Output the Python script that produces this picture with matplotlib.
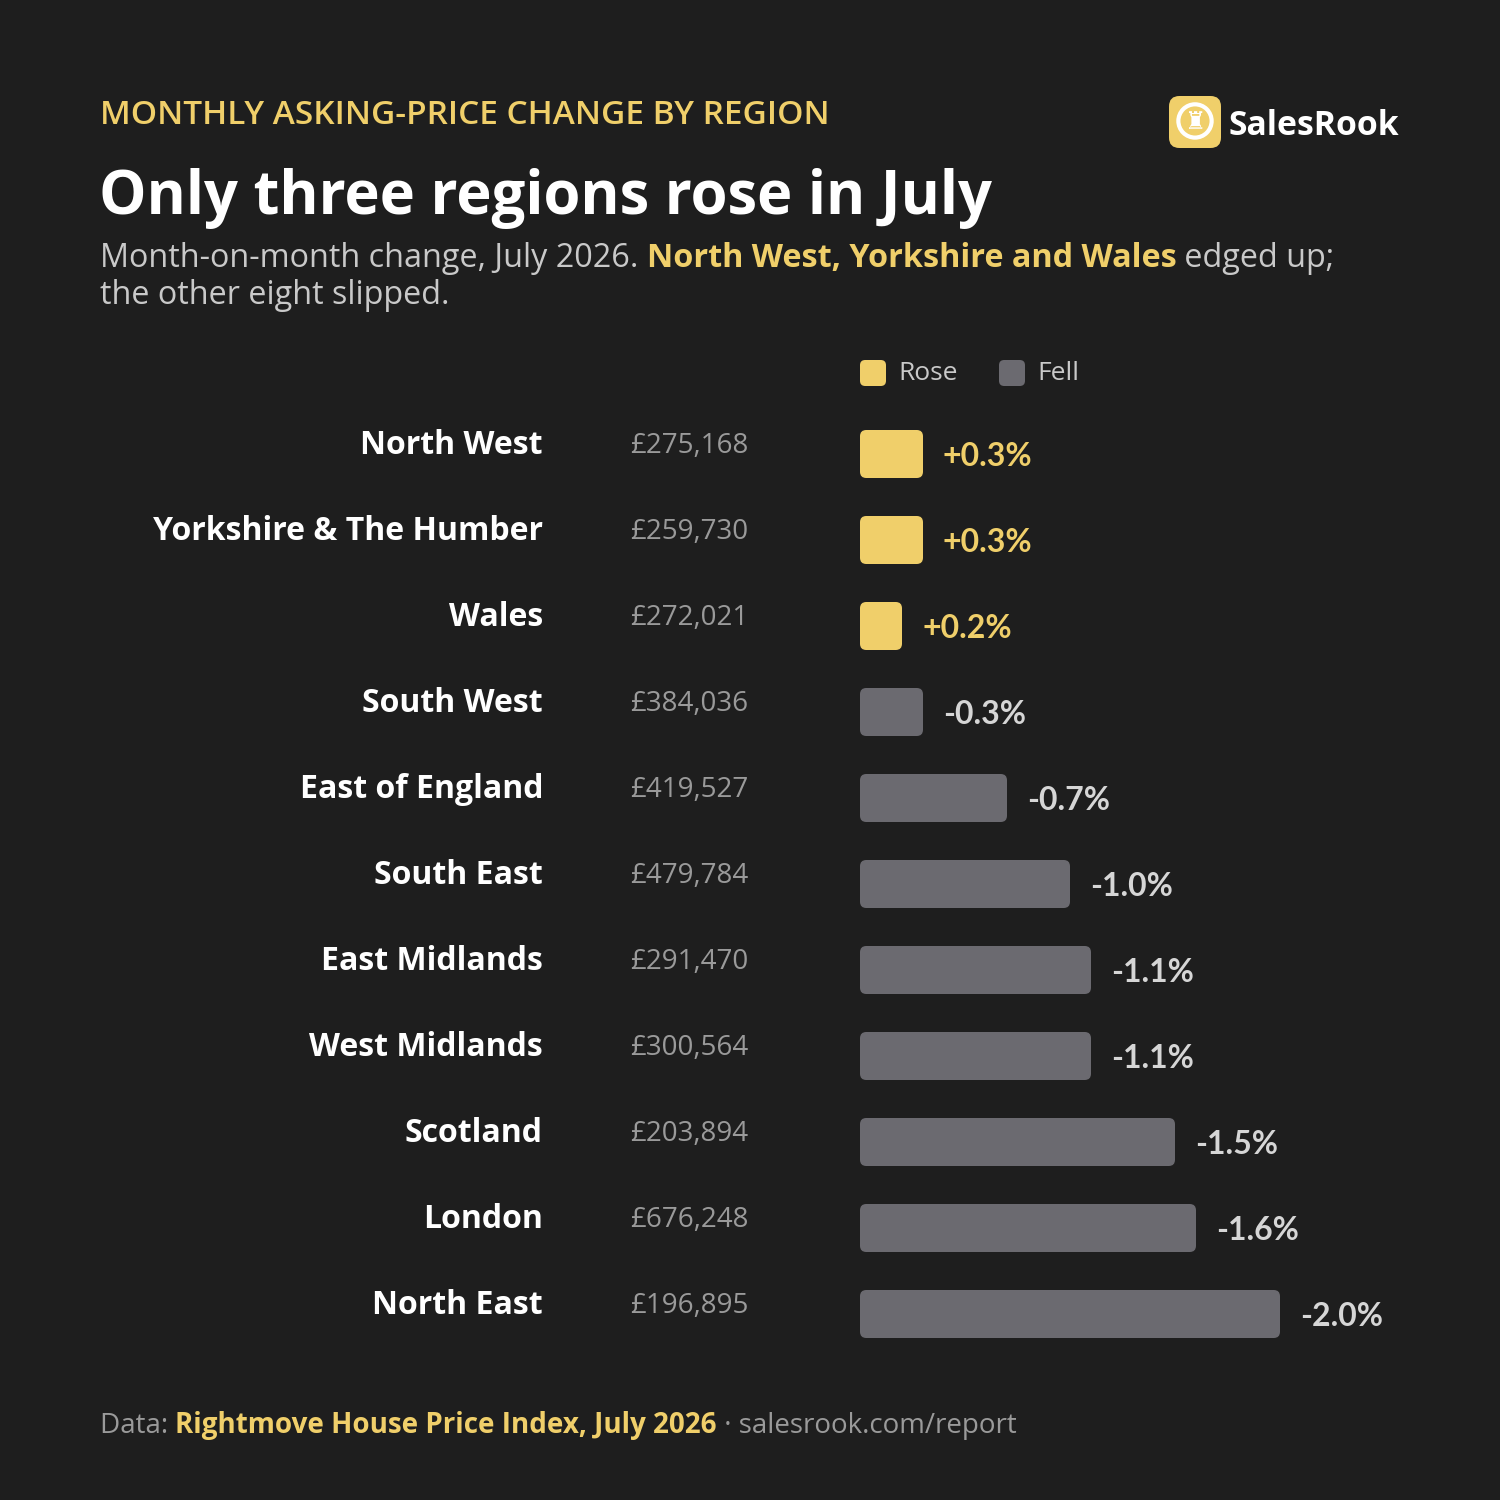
import matplotlib
matplotlib.use("Agg")
import matplotlib.pyplot as plt
from matplotlib.patches import FancyBboxPatch, Circle
from matplotlib.transforms import blended_transform_factory

regions = ["North West", "Yorkshire & The Humber", "Wales", "South West",
           "East of England", "South East", "East Midlands", "West Midlands",
           "Scotland", "London", "North East"]
prices = ["£275,168", "£259,730", "£272,021", "£384,036", "£419,527",
          "£479,784", "£291,470", "£300,564", "£203,894", "£676,248", "£196,895"]
changes = [0.3, 0.3, 0.2, -0.3, -0.7, -1.0, -1.1, -1.1, -1.5, -1.6, -2.0]

BG = "#1e1e1e"
YELLOW = "#f0cf6a"
GREY_BAR = "#6b6a70"
WHITE = "#ffffff"
LIGHT = "#c9c9c9"
MUTED = "#9a9a9a"

W = H = 1500
fig = plt.figure(figsize=(15, 15), dpi=100, facecolor=BG)


def px(x, y):
    return x / W, 1 - y / H


def runs(x, y, parts, size, family="Open Sans"):
    # draw a line made of several text pieces with different styles
    r = fig.canvas.get_renderer()
    for s, color, weight in parts:
        t = fig.text(*px(x, y), s, color=color, fontsize=size, fontweight=weight,
                     family=family, va="baseline", ha="left")
        bb = t.get_window_extent(renderer=r)
        x += bb.width


# header
fig.text(*px(100, 124), "MONTHLY ASKING-PRICE CHANGE BY REGION", color=YELLOW,
         fontsize=24, fontweight="semibold", family="Open Sans", va="baseline")
fig.text(*px(99, 214), "Only three regions rose in July", color=WHITE,
         fontsize=43, fontweight="bold", family="Open Sans", va="baseline")
runs(100, 267, [("Month-on-month change, July 2026. ", LIGHT, "normal"),
                ("North West, Yorkshire and Wales", YELLOW, "bold"),
                (" edged up;", LIGHT, "normal")], 23.3)
runs(100, 304, [("the other eight slipped.", LIGHT, "normal")], 23.3)

# logo
logo = fig.add_axes([1169 / W, 1 - 148 / H, 52 / W, 52 / H])
logo.set_xlim(0, 1)
logo.set_ylim(0, 1)
logo.axis("off")
logo.add_patch(FancyBboxPatch((0, 0), 1, 1, boxstyle="round,pad=0,rounding_size=0.2",
                              fc=YELLOW, ec="none"))
logo.add_patch(Circle((0.5, 0.52), 0.32, fc="none", ec=WHITE, lw=3))
logo.text(0.5, 0.5, "\u265c", color=WHITE, fontsize=17, ha="center", va="center",
          family="DejaVu Sans")
fig.text(*px(1228, 135), "SalesRook", color=WHITE, fontsize=24.3, fontweight="bold",
         family="Open Sans", va="baseline")

# bars
ax = fig.add_axes([860 / W, 1 - 1357 / H, 525 / W, 946 / H])
ax.set_facecolor(BG)
ax.set_xlim(0, 2.5)
ax.set_ylim(len(regions) - 0.5, -0.5)
ax.axis("off")

bar_h = 48 / 86
aspect = (1 / 86) / (1 / 210)
label_tf = blended_transform_factory(fig.transFigure, ax.transData)
for i, (name, price, ch) in enumerate(zip(regions, prices, changes)):
    rose = ch > 0
    color = YELLOW if rose else GREY_BAR
    ax.add_patch(FancyBboxPatch((0, i - bar_h / 2), abs(ch), bar_h,
                                boxstyle="round,pad=0,rounding_size=0.03",
                                mutation_aspect=aspect, fc=color, ec="none"))
    ax.text(abs(ch) + 20 / 210, i + 0.03, f"{ch:+.1f}%", color=YELLOW if rose else "#d6d6d6",
            fontsize=23, fontweight="bold", family="Lato", va="center", ha="left")
    ax.text(543 / W, i - 0.1, name, transform=label_tf, color=WHITE, fontsize=23,
            fontweight="bold", family="Open Sans", ha="right", va="center")
    ax.text(630 / W, i - 0.09, price, transform=label_tf, color=MUTED, fontsize=20,
            family="Open Sans", ha="left", va="center")

# legend
for x0, lab, c in [(860, "Rose", YELLOW), (999, "Fell", GREY_BAR)]:
    lg = fig.add_axes([x0 / W, 1 - 386 / H, 26 / W, 26 / H])
    lg.set_xlim(0, 1)
    lg.set_ylim(0, 1)
    lg.axis("off")
    lg.add_patch(FancyBboxPatch((0, 0), 1, 1, boxstyle="round,pad=0,rounding_size=0.2",
                                fc=c, ec="none"))
    fig.text(*px(x0 + 38, 374), lab, color=LIGHT, fontsize=19, family="Open Sans",
             va="center")

# footer
runs(100, 1433, [("Data: ", MUTED, "normal"),
                 ("Rightmove House Price Index, July 2026", YELLOW, "bold"),
                 (" · salesrook.com/report", MUTED, "normal")], 20)

fig.savefig("out.png", dpi=100, facecolor=BG)
